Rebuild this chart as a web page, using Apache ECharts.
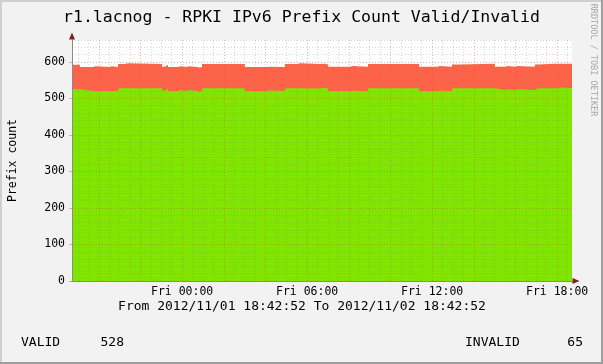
<!DOCTYPE html>
<html><head><meta charset="utf-8">
<script src="https://cdn.jsdelivr.net/npm/echarts@6/dist/echarts.min.js"></script>
<style>html,body{margin:0;padding:0;background:#F2F2F2}#c{width:603px;height:364px}</style>
</head><body><div id="c"></div>
<script>
// ---- data (hours since 2012/11/01 18:42:52) ----
const hoursFromStart = [0,0.38,1.01,1.15,1.78,1.92,2.21,2.54,2.69,4.32,4.46,4.61,5.09,5.23,5.47,5.62,6.00,6.14,6.24,8.30,9.36,9.50,10.22,10.80,10.94,11.90,12.14,12.29,13.34,13.49,14.21,16.66,17.52,17.66,18.24,18.62,20.30,20.78,20.93,21.26,21.41,22.22,22.37,23.18,23.52,24.00];
const validValues   = [525,520,520,520,520,520,528,528,528,522,527,520,523,520,523,520,518,520,528,520,522,520,528,528,527,529,527,520,521,520,528,520,521,520,528,528,523,525,523,525,523,528,528,530,528,528];
const invalidValues = [67,66,68,66,68,66,66,68,66,65,65,66,65,66,65,66,67,66,66,66,65,66,66,68,67,66,66,67,68,67,66,67,68,67,65,67,64,64,64,64,64,65,67,65,67,65];
const xTickHours  = [0,6,12,18];               // relative to Fri 00:00
const xTickLabels = ['Fri 00:00','Fri 06:00','Fri 12:00','Fri 18:00'];
const yTicks = [0,100,200,300,400,500,600];
const titleText = 'r1.lacnog - RPKI IPv6 Prefix Count Valid/Invalid';
const rangeText = 'From 2012/11/01 18:42:52 To 2012/11/02 18:42:52';

// ---- build ----
const OFFSET = 5 + 17/60 + 8/3600;   // start is this many hours before Fri 00:00
const xMin = -OFFSET, xMax = 24 - OFFSET;
const FONT = '"DejaVu Sans Mono", monospace';
const validData = hoursFromStart.map((h,i)=>[h-OFFSET, validValues[i]]);
const totalData = hoursFromStart.map((h,i)=>[h-OFFSET, validValues[i]+invalidValues[i]]);

const MINOR = 'rgba(130,130,130,0.32)', MAJOR = 'rgba(215,70,70,0.42)';
const gridLines = [];
for (let v = -5; v <= 18.5; v += 0.5) {
  const major = Math.abs(v % 2) < 1e-9;
  gridLines.push({xAxis: v, lineStyle:{color: major?MAJOR:MINOR, type:[1,2], width:1}});
}
for (let v = 20; v <= 660; v += 20) {
  const major = v % 100 === 0;
  gridLines.push({yAxis: v, lineStyle:{color: major?MAJOR:MINOR, type:[1,2], width:1}});
}

const chart = echarts.init(document.getElementById('c'), null, {renderer:'canvas'});
const axisCommon = {type:'value', min:xMin, max:xMax, position:'bottom'};
chart.setOption({
  animation:false,
  backgroundColor:'#F2F2F2',
  grid:{left:72, right:31, top:40, bottom:83, show:true, backgroundColor:'#FFFFFF', borderWidth:0,
        containLabel:false, outerBoundsMode:'none'},
  xAxis:[
    Object.assign({}, axisCommon, {
      z:7, splitLine:{show:false},
      axisLine:{show:true, onZero:false, lineStyle:{color:'#8a8a8a', width:1}},
      axisTick:{show:false},
      axisLabel:{customValues:xTickHours, margin:5, color:'#000', fontFamily:FONT, fontSize:11.5,
        formatter:(v)=>{const i = xTickHours.indexOf(Math.round(v)); return i>=0?xTickLabels[i]:'';}}
    }),
    Object.assign({}, axisCommon, {
      z:6, splitLine:{show:false}, axisTick:{show:false}, axisLabel:{show:false},
      axisLine:{show:true, onZero:false, symbol:['none','triangle'], symbolSize:[6,7], symbolOffset:[0,4],
        lineStyle:{color:'#801F1F', width:1}}
    })
  ],
  yAxis:[
    {type:'value', min:0, max:660, interval:100, position:'left', z:7,
      splitLine:{show:false},
      axisLine:{show:true, onZero:false, lineStyle:{color:'#8a8a8a', width:1}},
      axisTick:{show:true, length:3, lineStyle:{color:MAJOR}},
      axisLabel:{margin:7, color:'#000', fontFamily:FONT, fontSize:11.5, showMaxLabel:false,
        formatter:(v)=> yTicks.indexOf(v)>=0 ? String(v) : ''},
      name:'Prefix count', nameLocation:'middle', nameGap:53, nameRotate:90,
      nameTextStyle:{color:'#000', fontFamily:FONT, fontSize:11.5}
    },
    {type:'value', min:0, max:660, interval:100, position:'left', offset:0, z:6,
      splitLine:{show:false}, axisTick:{show:false}, axisLabel:{show:false},
      axisLine:{show:true, onZero:false, symbol:['none','triangle'], symbolSize:[6,7], symbolOffset:[0,4],
        lineStyle:{color:'#801F1F', width:1}}
    }
  ],
  series:[
    {name:'INVALID', type:'line', step:'end', data:totalData, symbol:'none', showSymbol:false,
      lineStyle:{width:0}, areaStyle:{color:'#FF6347', opacity:1}, itemStyle:{color:'#FF6347'}, silent:true},
    {name:'VALID', type:'line', step:'end', data:validData, symbol:'none', showSymbol:false,
      lineStyle:{width:0}, areaStyle:{color:'#80E600', opacity:1}, itemStyle:{color:'#80E600'}, silent:true},
    {type:'line', data:[], silent:true,
      markLine:{silent:true, symbol:['none','none'], label:{show:false}, animation:false, z:5,
        emphasis:{disabled:true}, data:gridLines}}
  ],
  graphic:[
    {type:'rect', shape:{x:0,y:0,width:603,height:2}, style:{fill:'#CFCFCF'}, silent:true},
    {type:'rect', shape:{x:0,y:0,width:2,height:364}, style:{fill:'#CFCFCF'}, silent:true},
    {type:'rect', shape:{x:601,y:0,width:2,height:364}, style:{fill:'#9E9E9E'}, silent:true},
    {type:'rect', shape:{x:0,y:362,width:603,height:2}, style:{fill:'#9E9E9E'}, silent:true},
    {type:'text', x:301.5, y:17.5, style:{text:titleText, font:'16.5px '+FONT, fill:'#000', align:'center', verticalAlign:'middle'}},
    {type:'text', x:302, y:306.5, style:{text:rangeText, font:'13px '+FONT, fill:'#000', align:'center', verticalAlign:'middle'}},
    {type:'text', x:593, y:60, rotation:-Math.PI/2, style:{text:'RRDTOOL / TOBI OETIKER', font:'8.5px '+FONT, fill:'#A8A8A8', align:'center', verticalAlign:'middle'}},
    {type:'text', x:21, y:343, style:{text:'VALID', font:'13px '+FONT, fill:'#000', align:'left', verticalAlign:'middle'}},
    {type:'text', x:124, y:343, style:{text:String(validValues[validValues.length-1]), font:'13px '+FONT, fill:'#000', align:'right', verticalAlign:'middle'}},
    {type:'text', x:465, y:343, style:{text:'INVALID', font:'13px '+FONT, fill:'#000', align:'left', verticalAlign:'middle'}},
    {type:'text', x:583, y:343, style:{text:String(invalidValues[invalidValues.length-1]), font:'13px '+FONT, fill:'#000', align:'right', verticalAlign:'middle'}}
  ]
});
</script></body></html>
